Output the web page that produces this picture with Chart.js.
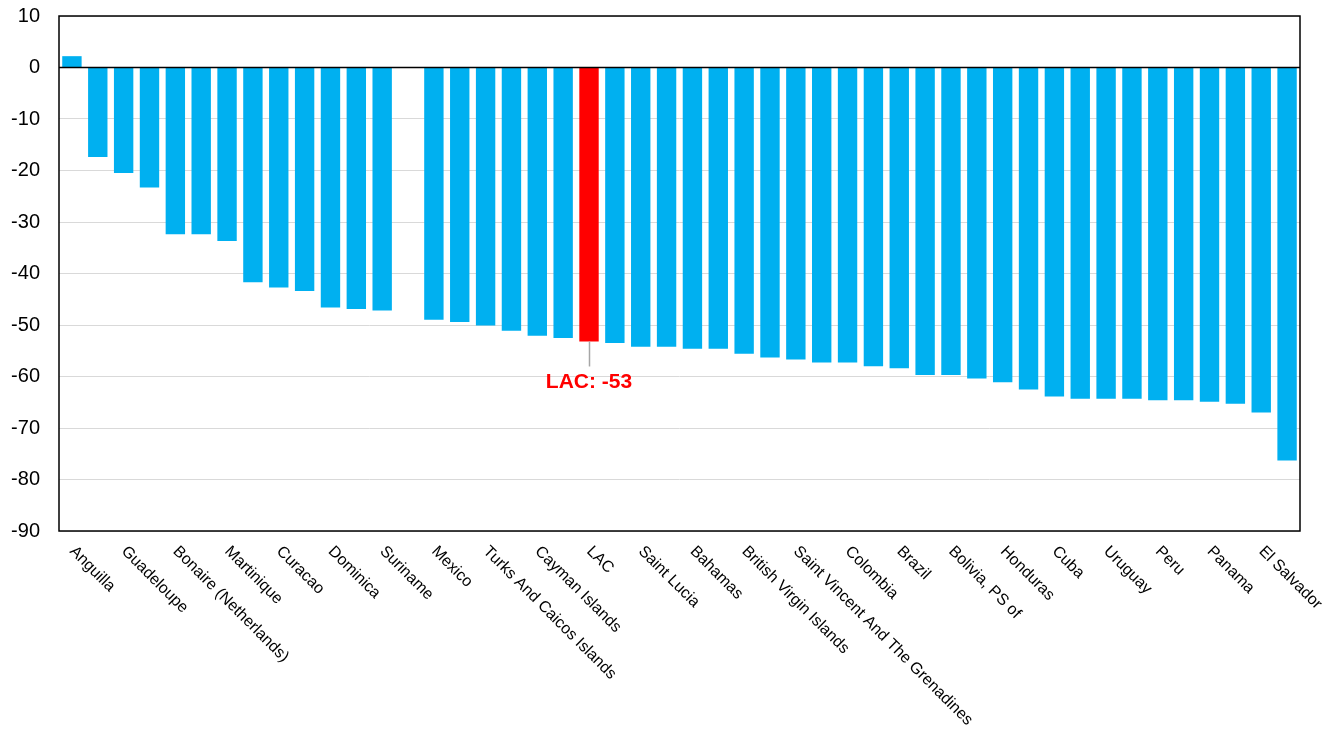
<!DOCTYPE html>
<html>
<head>
<meta charset="utf-8">
<script src="https://cdn.jsdelivr.net/npm/chart.js@4.4.1/dist/chart.umd.min.js"></script>
<style>
  html, body { margin: 0; padding: 0; background: #ffffff; }
  #wrap { width: 1336px; height: 729px; position: relative; }
</style>
</head>
<body>
<div id="wrap"><canvas id="c" width="1336" height="729"></canvas></div>
<script>
// ---- data ----
const categories = [
  "Anguilla", "Aruba", "Guadeloupe", "Barbados", "Bonaire (Netherlands)", "Montserrat",
  "Martinique", "Saint Barthelemy", "Curacao", "Sint Maarten", "Dominica", "Antigua And Barbuda",
  "Suriname", "Venezuela", "Mexico", "Grenada", "Turks And Caicos Islands", "Saint Kitts And Nevis",
  "Cayman Islands", "Jamaica", "LAC", "Belize", "Saint Lucia", "Puerto Rico",
  "Bahamas", "Dominican Republic", "British Virgin Islands", "Trinidad And Tobago",
  "Saint Vincent And The Grenadines", "Costa Rica", "Colombia", "Guyana", "Brazil", "Chile",
  "Bolivia, PS of", "Ecuador", "Honduras", "Guatemala", "Cuba", "Paraguay",
  "Uruguay", "Nicaragua", "Peru", "Argentina", "Panama", "Haiti", "El Salvador", "French Guiana"
];
const values = [
  2.2, -17.4, -20.5, -23.3, -32.4, -32.4,
  -33.7, -41.7, -42.7, -43.4, -46.6, -46.9,
  -47.2, null, -49.0, -49.4, -50.1, -51.1,
  -52.1, -52.5, -53.2, -53.5, -54.2, -54.2,
  -54.6, -54.6, -55.6, -56.3, -56.7, -57.3,
  -57.3, -58.0, -58.4, -59.7, -59.7, -60.4,
  -61.1, -62.5, -63.9, -64.3, -64.3, -64.3,
  -64.6, -64.6, -64.9, -65.3, -67.0, -76.3
];
const highlightCategory = "LAC";
const yMin = -90, yMax = 10, yStep = 10;
const labelEvery = 2;

const barColors = categories.map(c => c === highlightCategory ? "#FF0000" : "#00B0F0");

// ---- plugins ----
const frameAndLabels = {
  id: "frameAndLabels",
  afterDatasetsDraw(chart) {
    const ctx = chart.ctx;
    const a = chart.chartArea;
    const xs = chart.scales.x, ys = chart.scales.y;
    ctx.save();
    // zero line
    const y0 = Math.round(ys.getPixelForValue(0)) + 0.5;
    ctx.strokeStyle = "#000000";
    ctx.lineWidth = 1.5;
    ctx.beginPath();
    ctx.moveTo(a.left, y0);
    ctx.lineTo(a.right, y0);
    ctx.stroke();
    // frame
    ctx.lineWidth = 1.5;
    ctx.strokeRect(a.left, a.top, a.right - a.left, a.bottom - a.top);

    // rotated category labels
    ctx.fillStyle = "#000000";
    ctx.font = "16px 'Liberation Sans', Arial, sans-serif";
    ctx.textAlign = "left";
    ctx.textBaseline = "alphabetic";
    for (let i = 0; i < categories.length; i += labelEvery) {
      const x = xs.getPixelForValue(i);
      ctx.save();
      ctx.translate(x - 3, a.bottom + 21);
      ctx.rotate(Math.PI / 4);
      ctx.fillText(categories[i], 0, 0);
      ctx.restore();
    }

    // highlight annotation
    const idx = categories.indexOf(highlightCategory);
    const bar = chart.getDatasetMeta(0).data[idx];
    if (bar) {
      const bx = Math.round(bar.x) + 0.5;
      ctx.strokeStyle = "#a6a6a6";
      ctx.lineWidth = 1.5;
      ctx.beginPath();
      ctx.moveTo(bx, bar.y);
      ctx.lineTo(bx, bar.y + 25);
      ctx.stroke();
      ctx.fillStyle = "#FF0000";
      ctx.font = "bold 21px 'Liberation Sans', Arial, sans-serif";
      ctx.textAlign = "center";
      ctx.fillText(highlightCategory + ": " + Math.round(values[idx]), bar.x, bar.y + 47);
    }
    ctx.restore();
  }
};

new Chart(document.getElementById("c"), {
  type: "bar",
  data: {
    labels: categories,
    datasets: [{
      data: values,
      backgroundColor: barColors,
      borderWidth: 0,
      categoryPercentage: 1.0,
      barPercentage: 0.75
    }]
  },
  options: {
    responsive: false,
    animation: false,
    devicePixelRatio: 1,
    layout: { padding: { left: 0, top: 16, right: 36, bottom: 198 } },
    plugins: { legend: { display: false }, tooltip: { enabled: false } },
    scales: {
      x: { display: false },
      y: {
        min: yMin, max: yMax,
        afterFit(scale) { scale.width = 59; scale.paddingTop = 0; scale.paddingBottom = 0; },
        border: { display: false },
        grid: {
          drawTicks: false,
          color: "#d9d9d9",
          lineWidth: 1
        },
        ticks: {
          stepSize: yStep,
          padding: 19,
          color: "#000000",
          font: { family: "'Liberation Sans', Arial, sans-serif", size: 20 }
        }
      }
    }
  },
  plugins: [frameAndLabels]
});
</script>
</body>
</html>
